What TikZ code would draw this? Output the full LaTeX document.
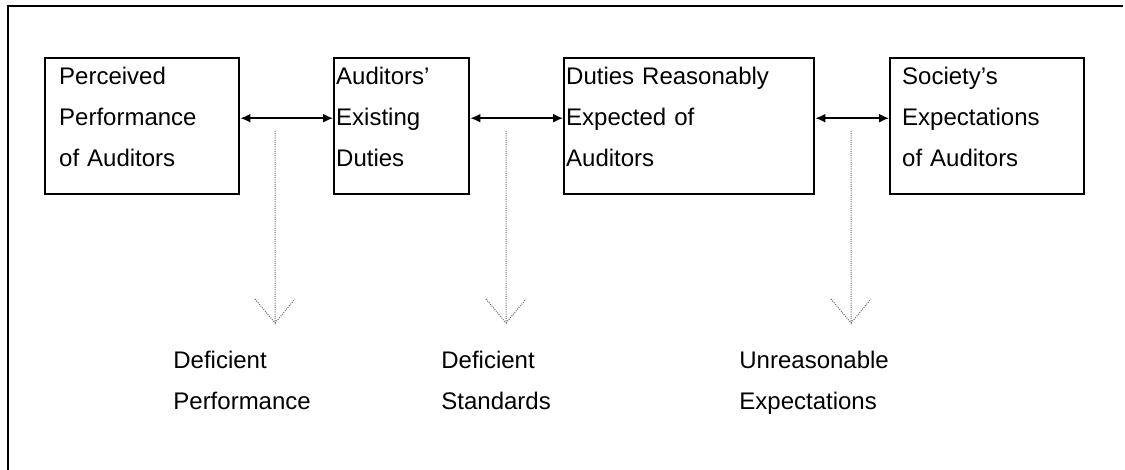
\documentclass[tikz,border=0pt]{standalone}
\usepackage{fontspec}
\setmainfont{Liberation Sans}
\usetikzlibrary{positioning,arrows.meta}

\begin{document}
\begin{tikzpicture}[x=0.5pt,y=-0.5pt,
  every node/.style={inner sep=0pt,font=\fontsize{12}{20.5}\selectfont},
  Boxnode/.style={draw,line width=1.2pt,anchor=north west,align=left,
    text height=13pt,text depth=55pt,inner ysep=0pt},
  Gapnode/.style={anchor=base west,align=left,text width=90pt},
  link/.style={{Latex[length=5pt,width=4.5pt]}-{Latex[length=5pt,width=4.5pt]},line width=0.8pt},
  gap/.style={black!60,line width=0.5pt,dash pattern=on 0.5pt off 0.6pt}
]
\useasboundingbox (0,0) rectangle (1125,470);

% the frame
\draw[line width=1.2pt] (8,470) -- (8,6) -- (1123,6);

% the boxes
\node[Boxnode,inner xsep=7pt,text width=83pt] (Perf) at (44,57) {Perceived\\Performance\\of Auditors};
\node[Boxnode,inner xsep=1pt,text width=65.5pt] (Duty) at (333,57) {Auditors’\\Existing\\Duties};
\node[Boxnode,inner xsep=1pt,text width=123pt] (Reas) at (563,57) {Duties Reasonably\\Expected of\\Auditors};
\node[Boxnode,inner xsep=6pt,text width=85pt] (Soc) at (889,57) {Society’s\\Expectations\\of Auditors};

% the links
\draw[link] ([yshift=4pt]Perf.east) -- ([yshift=4pt]Duty.west);
\draw[link] ([yshift=4pt]Duty.east) -- ([yshift=4pt]Reas.west);
\draw[link] ([yshift=4pt]Reas.east) -- ([yshift=4pt]Soc.west);

% the gaps
\foreach \i/\x in {1/275,2/506,3/851} {
  \coordinate (G\i s) at (\x,131);
  \coordinate (G\i e) at (\x,323);
  \draw[gap] (G\i s) -- (G\i e) -- +(-20,-24) (G\i e) -- +(20,-24);
}

%label gaps
\node[Gapnode] (Def1) at (173,369) {Deficient\\Performance};
\node[Gapnode] (Def2) at (441,369) {Deficient\\Standards};
\node[Gapnode] (Unr) at (739,369) {Unreasonable\\Expectations};

\end{tikzpicture}
\end{document}
